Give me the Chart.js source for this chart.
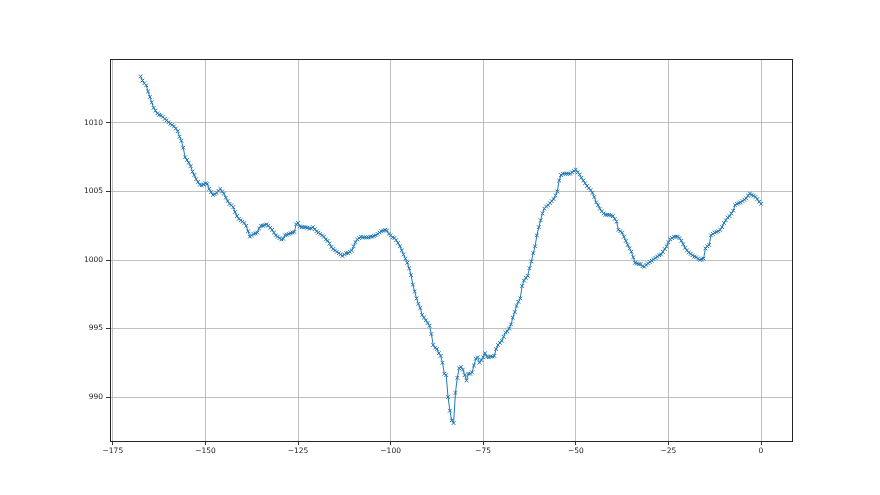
<!DOCTYPE html>
<html>
<head>
<meta charset="utf-8">
<script src="https://cdn.jsdelivr.net/npm/chart.js@4.4.1/dist/chart.umd.min.js"></script>
<style>
  body { margin: 0; background: #fff; }
  #wrap { width: 880px; height: 495px; }
</style>
</head>
<body>
<div id="wrap"><canvas id="pressureChart" width="880" height="495"></canvas></div>
<script>
// hours relative to now, half-hourly readings (one row = 6 hours)
const hours = [
  -167.5, -167, -166.5, -166, -165.5, -165, -164.5, -164, -163.5, -163, -162.5, -162,
  -161.5, -161, -160.5, -160, -159.5, -159, -158.5, -158, -157.5, -157, -156.5, -156,
  -155.5, -155, -154.5, -154, -153.5, -153, -152.5, -152, -151.5, -151, -150.5, -150,
  -149.5, -149, -148.5, -148, -147.5, -147, -146.5, -146, -145.5, -145, -144.5, -144,
  -143.5, -143, -142.5, -142, -141.5, -141, -140.5, -140, -139.5, -139, -138.5, -138,
  -137.5, -137, -136.5, -136, -135.5, -135, -134.5, -134, -133.5, -133, -132.5, -132,
  -131.5, -131, -130.5, -130, -129.5, -129, -128.5, -128, -127.5, -127, -126.5, -126,
  -125.5, -125, -124.5, -124, -123.5, -123, -122.5, -122, -121.5, -121, -120.5, -120,
  -119.5, -119, -118.5, -118, -117.5, -117, -116.5, -116, -115.5, -115, -114.5, -114,
  -113.5, -113, -112.5, -112, -111.5, -111, -110.5, -110, -109.5, -109, -108.5, -108,
  -107.5, -107, -106.5, -106, -105.5, -105, -104.5, -104, -103.5, -103, -102.5, -102,
  -101.5, -101, -100.5, -100, -99.5, -99, -98.5, -98, -97.5, -97, -96.5, -96,
  -95.5, -95, -94.5, -94, -93.5, -93, -92.5, -92, -91.5, -91, -90.5, -90,
  -89.5, -89, -88.5, -88, -87.5, -87, -86.5, -86, -85.5, -85, -84.5, -84,
  -83.5, -83, -82.5, -82, -81.5, -81, -80.5, -80, -79.5, -79, -78.5, -78,
  -77.5, -77, -76.5, -76, -75.5, -75, -74.5, -74, -73.5, -73, -72.5, -72,
  -71.5, -71, -70.5, -70, -69.5, -69, -68.5, -68, -67.5, -67, -66.5, -66,
  -65.5, -65, -64.5, -64, -63.5, -63, -62.5, -62, -61.5, -61, -60.5, -60,
  -59.5, -59, -58.5, -58, -57.5, -57, -56.5, -56, -55.5, -55, -54.5, -54,
  -53.5, -53, -52.5, -52, -51.5, -51, -50.5, -50, -49.5, -49, -48.5, -48,
  -47.5, -47, -46.5, -46, -45.5, -45, -44.5, -44, -43.5, -43, -42.5, -42,
  -41.5, -41, -40.5, -40, -39.5, -39, -38.5, -38, -37.5, -37, -36.5, -36,
  -35.5, -35, -34.5, -34, -33.5, -33, -32.5, -32, -31.5, -31, -30.5, -30,
  -29.5, -29, -28.5, -28, -27.5, -27, -26.5, -26, -25.5, -25, -24.5, -24,
  -23.5, -23, -22.5, -22, -21.5, -21, -20.5, -20, -19.5, -19, -18.5, -18,
  -17.5, -17, -16.5, -16, -15.5, -15, -14.5, -14, -13.5, -13, -12.5, -12,
  -11.5, -11, -10.5, -10, -9.5, -9, -8.5, -8, -7.5, -7, -6.5, -6,
  -5.5, -5, -4.5, -4, -3.5, -3, -2.5, -2, -1.5, -1, -0.5, 0
];

// pressure (hPa)
const pressure = [
  1013.4, 1013.1, 1012.9, 1012.75, 1012.3, 1011.9, 1011.5, 1011.1, 1010.9, 1010.7, 1010.6, 1010.55,
  1010.45, 1010.3, 1010.2, 1010.05, 1009.95, 1009.85, 1009.75, 1009.6, 1009.4, 1009.0, 1008.7, 1008.2,
  1007.5, 1007.3, 1007.1, 1006.85, 1006.45, 1006.2, 1005.9, 1005.7, 1005.5, 1005.45, 1005.5, 1005.6,
  1005.55, 1005.2, 1004.95, 1004.75, 1004.8, 1004.9, 1005.05, 1005.2, 1005.0, 1004.85, 1004.55, 1004.3,
  1004.1, 1004.0, 1003.85, 1003.5, 1003.2, 1003.0, 1002.9, 1002.8, 1002.7, 1002.5, 1002.1, 1001.7,
  1001.8, 1001.9, 1001.95, 1002.0, 1002.3, 1002.5, 1002.5, 1002.55, 1002.6, 1002.5, 1002.35, 1002.2,
  1002.0, 1001.8, 1001.7, 1001.6, 1001.5, 1001.55, 1001.8, 1001.85, 1001.9, 1001.95, 1002.0, 1002.05,
  1002.6, 1002.7, 1002.45, 1002.4, 1002.4, 1002.4, 1002.35, 1002.3, 1002.3, 1002.4, 1002.25, 1002.1,
  1002.0, 1001.9, 1001.8, 1001.7, 1001.5, 1001.4, 1001.2, 1000.95, 1000.8, 1000.7, 1000.6, 1000.5,
  1000.4, 1000.3, 1000.4, 1000.5, 1000.5, 1000.6, 1000.7, 1001.0, 1001.3, 1001.5, 1001.6, 1001.7,
  1001.65, 1001.65, 1001.65, 1001.65, 1001.7, 1001.7, 1001.75, 1001.8, 1001.9, 1002.0, 1002.1, 1002.15,
  1002.2, 1002.15, 1001.9, 1001.8, 1001.65, 1001.6, 1001.45, 1001.25, 1001.0, 1000.7, 1000.4, 1000.1,
  999.8, 999.4, 998.9, 998.2, 997.7, 997.2, 996.8, 996.5, 996.0, 995.8, 995.6, 995.4,
  995.2, 994.6, 993.8, 993.6, 993.5, 993.2, 993.0, 992.5, 991.7, 991.6, 990.0, 989.0,
  988.3, 988.1, 990.3, 991.4, 992.1, 992.2, 992.0, 991.6, 991.2, 991.7, 991.7, 991.8,
  992.3, 992.8, 992.9, 992.5, 992.7, 992.9, 993.2, 992.95, 992.9, 992.95, 992.95, 993.0,
  993.5, 993.8, 993.95, 994.1, 994.4, 994.7, 994.8, 995.0, 995.3, 995.8, 996.2, 996.65,
  996.95, 997.2, 998.1, 998.5, 998.7, 998.85, 999.4, 999.9, 1000.5, 1001.0, 1001.8, 1002.4,
  1002.9, 1003.4, 1003.75, 1003.9, 1004.0, 1004.15, 1004.3, 1004.45, 1004.7, 1005.0, 1005.8, 1006.2,
  1006.3, 1006.3, 1006.3, 1006.3, 1006.3, 1006.4, 1006.5, 1006.6, 1006.4, 1006.25, 1006.0, 1005.8,
  1005.6, 1005.4, 1005.25, 1005.1, 1004.9, 1004.6, 1004.2, 1004.0, 1003.75, 1003.55, 1003.4, 1003.3,
  1003.3, 1003.3, 1003.25, 1003.2, 1003.0, 1002.8, 1002.2, 1002.1, 1002.0, 1001.7, 1001.4, 1001.1,
  1000.85, 1000.6, 1000.2, 999.8, 999.75, 999.7, 999.7, 999.55, 999.5, 999.65, 999.75, 999.85,
  999.95, 1000.05, 1000.15, 1000.25, 1000.35, 1000.4, 1000.6, 1000.8, 1001.0, 1001.3, 1001.5, 1001.6,
  1001.7, 1001.7, 1001.7, 1001.6, 1001.4, 1001.15, 1000.9, 1000.7, 1000.55, 1000.45, 1000.35, 1000.25,
  1000.2, 1000.1, 1000.0, 1000.05, 1000.1, 1000.85, 1001.0, 1001.1, 1001.8, 1001.9, 1002.0, 1002.05,
  1002.1, 1002.2, 1002.4, 1002.7, 1002.9, 1003.1, 1003.2, 1003.4, 1003.6, 1004.0, 1004.1, 1004.15,
  1004.2, 1004.3, 1004.4, 1004.5, 1004.7, 1004.85, 1004.75, 1004.7, 1004.6, 1004.45, 1004.25, 1004.1
];

const xTicks = [-175, -150, -125, -100, -75, -50, -25, 0];
const yTicks = [990, 995, 1000, 1005, 1010];

// dark frame round the plot box, like matplotlib spines
const frame = {
  id: 'frame',
  afterDatasetsDraw(chart) {
    const a = chart.chartArea;
    const ctx = chart.ctx;
    ctx.save();
    ctx.strokeStyle = '#262626';
    ctx.lineWidth = 1;
    ctx.strokeRect(Math.round(a.left) + 0.5, Math.round(a.top) + 0.5,
      Math.round(a.right - a.left), Math.round(a.bottom - a.top));
    ctx.restore();
  }
};

const tickFont = { family: 'DejaVu Sans', size: 7.5 };

new Chart(document.getElementById('pressureChart'), {
  type: 'line',
  data: {
    datasets: [{
      data: hours.map((h, i) => ({ x: h, y: pressure[i] })),
      borderColor: '#1f77b4',
      borderWidth: 1,
      pointStyle: 'crossRot',
      pointRadius: 2.6,
      pointBorderWidth: 1,
      pointBorderColor: '#1f77b4',
      pointBackgroundColor: '#1f77b4',
      tension: 0
    }]
  },
  options: {
    responsive: false,
    animation: false,
    layout: { padding: { top: 59, right: 88, bottom: 0, left: 0 } },
    plugins: { legend: { display: false }, tooltip: { enabled: false } },
    scales: {
      x: {
        type: 'linear',
        min: -175.77,
        max: 8.37,
        afterBuildTicks: s => { s.ticks = xTicks.map(v => ({ value: v })); },
        afterFit: s => { s.height = 54; },
        border: { display: false },
        grid: { color: '#b0b0b0', lineWidth: 0.8, tickColor: '#333', tickLength: 4, tickWidth: 1 },
        ticks: {
          font: tickFont, color: '#222', padding: 2, maxRotation: 0,
          callback: v => String(v).replace('-', '\u2212')
        }
      },
      y: {
        min: 986.79,
        max: 1014.67,
        afterBuildTicks: s => { s.ticks = yTicks.map(v => ({ value: v })); },
        afterFit: s => { s.width = 110; },
        border: { display: false },
        grid: { color: '#b0b0b0', lineWidth: 0.8, tickColor: '#333', tickLength: 4, tickWidth: 1 },
        ticks: { font: tickFont, color: '#222', padding: 3, callback: v => String(v) }
      }
    }
  },
  plugins: [frame]
});
</script>
</body>
</html>
